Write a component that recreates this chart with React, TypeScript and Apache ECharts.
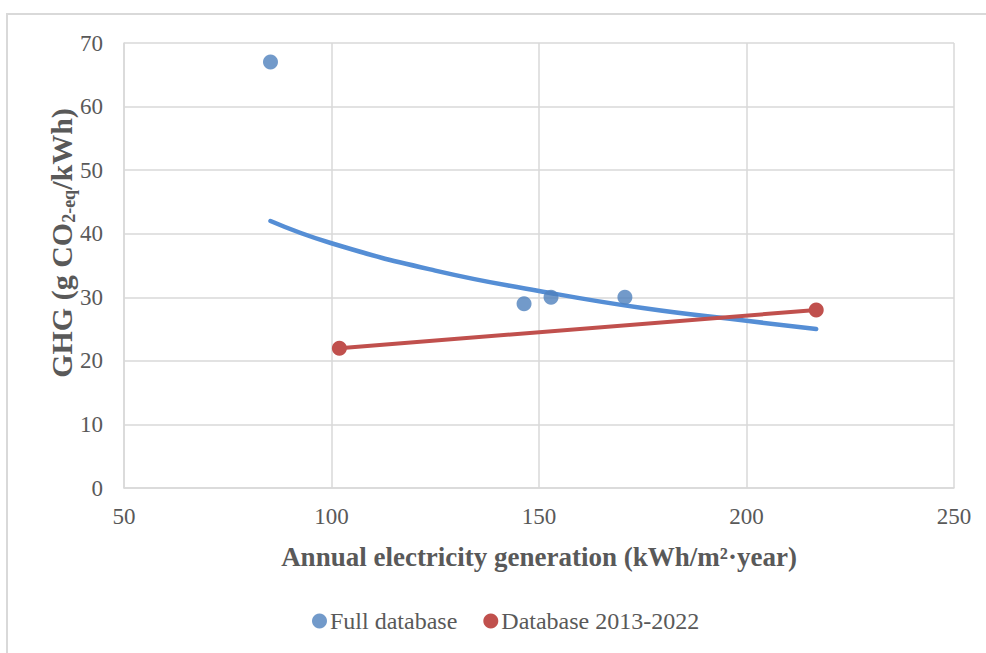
import React, { useEffect, useRef } from "react";
import * as echarts from "echarts";

// Measured samples (annual electricity generation in kWh/m²·year, GHG in g CO2-eq/kWh)
const fullDatabase: [number, number][] = [
  [85.3, 67],
  [146.4, 29],
  [152.9, 30],
  [170.7, 30],
];

const database2013to2022: [number, number][] = [
  [101.9, 22],
  [216.8, 28],
];

// Trend curve for the full database, read at several generation values
const fullDatabaseTrend: [number, number][] = [
  [85.3, 42],
  [100, 38.5],
  [125, 34.2],
  [150, 31],
  [175, 28.3],
  [200, 26.3],
  [216.8, 25],
];

const xTicks = { min: 50, max: 250, interval: 50 };
const yTicks = { min: 0, max: 70, interval: 10 };

const xTitle = "Annual electricity generation (kWh/m²·year)";
const yTitleParts = ["GHG (g CO", "2-eq", "/kWh)"];

const FONT = "'Liberation Serif', 'Times New Roman', serif";
const TEXT = "#595959";
const GRID = "#D9D9D9";
const BLUE = "#4F81BD";
const TREND_BLUE = "#558ED5";
const RED = "#C0504D";

export default function App() {
  const ref = useRef<HTMLDivElement>(null);

  useEffect(() => {
    if (!ref.current) return;
    const chart = echarts.init(ref.current, undefined, { renderer: "svg" });
    chart.setOption({
      animation: false,
      backgroundColor: "#ffffff",
      graphic: [
        {
          type: "rect",
          shape: { x: 7, y: 14, width: 1000, height: 700 },
          style: { fill: "none", stroke: GRID, lineWidth: 2 },
          silent: true,
        },
        {
          // rotated y-axis title with a subscripted "2-eq"
          type: "text",
          x: 61,
          y: 243,
          rotation: Math.PI / 2,
          silent: true,
          style: {
            text: `{m|${yTitleParts[0]}}{s|${yTitleParts[1]}}{m|${yTitleParts[2]}}`,
            align: "center",
            verticalAlign: "middle",
            rich: {
              m: {
                fontFamily: FONT,
                fontSize: 30,
                fontWeight: "bold",
                fill: TEXT,
                lineHeight: 34,
              },
              s: {
                fontFamily: FONT,
                fontSize: 18,
                fontWeight: "bold",
                fill: TEXT,
                lineHeight: 18,
                verticalAlign: "bottom",
              },
            },
          },
        },
      ],
      grid: { left: 124, right: 32, top: 43, bottom: 165 },
      legend: {
        bottom: 15,
        left: 307,
        itemWidth: 15,
        itemHeight: 15,
        itemGap: 26,
        textStyle: { fontFamily: FONT, fontSize: 24, color: TEXT, padding: [0, 0, 0, -2] },
        data: [
          { name: "Full database", icon: "circle" },
          { name: "Database 2013-2022", icon: "circle" },
        ],
      },
      xAxis: {
        type: "value",
        ...xTicks,
        name: xTitle,
        nameLocation: "middle",
        nameGap: 55,
        nameTextStyle: { fontFamily: FONT, fontSize: 27, fontWeight: "bold", color: TEXT },
        axisLine: { show: true, lineStyle: { color: GRID, width: 1.5 } },
        axisTick: { show: false },
        axisLabel: { fontFamily: FONT, fontSize: 23, color: TEXT, margin: 17 },
        splitLine: { show: true, lineStyle: { color: GRID, width: 1.5 } },
      },
      yAxis: {
        type: "value",
        ...yTicks,
        axisLine: { show: true, lineStyle: { color: GRID, width: 1.5 } },
        axisTick: { show: false },
        axisLabel: { fontFamily: FONT, fontSize: 23, color: TEXT, margin: 21 },
        splitLine: { show: true, lineStyle: { color: GRID, width: 1.5 } },
      },
      series: [
        {
          name: "Full database trend",
          type: "line",
          data: fullDatabaseTrend,
          smooth: true,
          showSymbol: false,
          symbol: "none",
          lineStyle: { color: TREND_BLUE, width: 4.5, cap: "round" },
          z: 2,
        },
        {
          name: "Database 2013-2022",
          type: "line",
          data: database2013to2022,
          symbol: "circle",
          symbolSize: 15,
          itemStyle: { color: RED },
          lineStyle: { color: RED, width: 4 },
          z: 3,
        },
        {
          name: "Full database",
          type: "scatter",
          data: fullDatabase,
          symbol: "circle",
          symbolSize: 15,
          itemStyle: { color: BLUE },
          z: 4,
        },
      ],
    });
    return () => chart.dispose();
  }, []);

  return (
    <div
      ref={ref}
      style={{ position: "fixed", left: 0, top: 0, width: 986, height: 653, background: "#fff" }}
    />
  );
}
